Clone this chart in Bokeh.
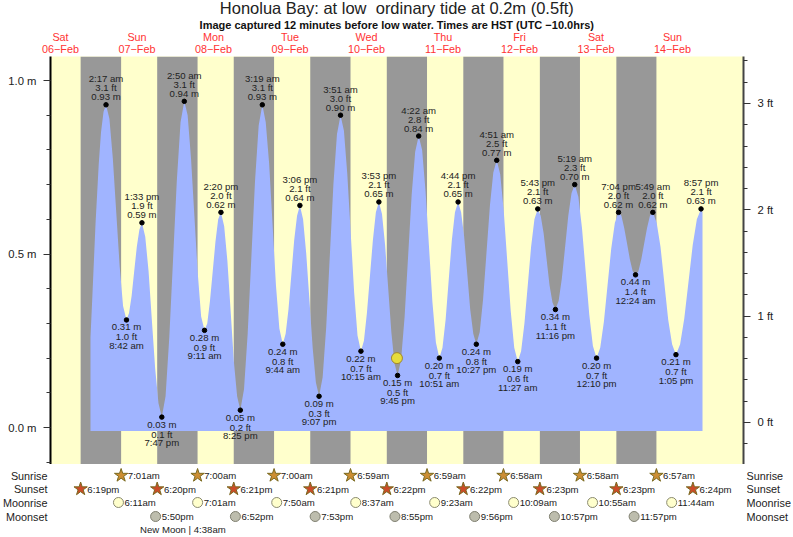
from bokeh.plotting import figure
from bokeh.layouts import column
from bokeh.models import (ColumnDataSource, FixedTicker, LinearAxis, Range1d)
from bokeh.embed import file_html
from bokeh.resources import INLINE
from bokeh.core.properties import value

FONT = "Liberation Sans"

title_text = "Honolua Bay: at low \u00a0ordinary tide at 0.2m (0.5ft)"
subtitle_text = "Image captured 12 minutes before low water. Times are HST (UTC \u221210.0hrs)"
day_names = ["Sat", "Sun", "Mon", "Tue", "Wed", "Thu", "Fri", "Sat", "Sun"]
day_dates = ["06", "07", "08", "09", "10", "11", "12", "13", "14"]

# tide turning points: day index from 06-Feb, clock time, metres, feet
tide_day = [1, 1, 1, 1, 2, 2, 2, 2, 3, 3, 3, 3, 4, 4, 4, 4, 5, 5, 5, 5, 6, 6, 6, 6, 7, 7, 7, 8, 8, 8, 8]
tide_time = ["2:17 am", "8:42 am", "1:33 pm", "7:47 pm", "2:50 am", "9:11 am", "2:20 pm", "8:25 pm",
             "3:19 am", "9:44 am", "3:06 pm", "9:07 pm", "3:51 am", "10:15 am", "3:53 pm", "9:45 pm",
             "4:22 am", "10:51 am", "4:44 pm", "10:27 pm", "4:51 am", "11:27 am", "5:43 pm", "11:16 pm",
             "5:19 am", "12:10 pm", "7:04 pm", "12:24 am", "5:49 am", "1:05 pm", "8:57 pm"]
tide_m = [0.93, 0.31, 0.59, 0.03, 0.94, 0.28, 0.62, 0.05, 0.93, 0.24, 0.64, 0.09, 0.90, 0.22, 0.65, 0.15,
          0.84, 0.20, 0.65, 0.24, 0.77, 0.19, 0.63, 0.34, 0.70, 0.20, 0.62, 0.44, 0.62, 0.21, 0.63]
tide_ft = [3.1, 1.0, 1.9, 0.1, 3.1, 0.9, 2.0, 0.2, 3.1, 0.8, 2.1, 0.3, 3.0, 0.7, 2.1, 0.5,
           2.8, 0.7, 2.1, 0.8, 2.5, 0.6, 2.1, 1.1, 2.3, 0.7, 2.0, 1.4, 2.0, 0.7, 2.1]

# tide curve: hours since 06-Feb 00:00, metres
curve_hours = [21.41, 22.0, 23.0, 24.0, 24.7, 25.5, 26.28,
               27.35, 28.42, 29.49, 30.56, 31.63, 32.70,
               33.51, 34.32, 35.12, 35.93, 36.74, 37.55,
               38.59, 39.63, 40.66, 41.70, 42.74, 43.78,
               44.96, 46.13, 47.31, 48.48, 49.66, 50.83,
               51.89, 52.95, 54.0, 55.06, 56.12, 57.18,
               58.04, 58.90, 59.76, 60.61, 61.47, 62.33,
               63.35, 64.36, 65.38, 66.39, 67.41, 68.42,
               69.57, 70.72, 71.87, 73.02, 74.17, 75.32,
               76.39, 77.46, 78.53, 79.59, 80.66, 81.73,
               82.63, 83.52, 84.42, 85.31, 86.21, 87.10,
               88.1, 89.1, 90.11, 91.11, 92.12, 93.12,
               94.24, 95.36, 96.49, 97.61, 98.73, 99.85,
               100.92, 101.98, 103.05, 104.12, 105.18, 106.25,
               107.19, 108.13, 109.07, 110.0, 110.94, 111.88,
               112.86, 113.84, 114.82, 115.79, 116.77, 117.75,
               118.85, 119.96, 121.06, 122.16, 123.27, 124.37,
               125.45, 126.53, 127.61, 128.69, 129.77, 130.85,
               131.83, 132.81, 133.79, 134.77, 135.75, 136.73,
               137.68, 138.64, 139.59, 140.54, 141.5, 142.45,
               143.52, 144.58, 145.65, 146.72, 147.78, 148.85,
               149.95, 151.05, 152.15, 153.25, 154.35, 155.45,
               156.5, 157.54, 158.59, 159.63, 160.68, 161.72,
               162.65, 163.57, 164.5, 165.42, 166.35, 167.27,
               168.28, 169.29, 170.3, 171.3, 172.31, 173.32,
               174.46, 175.6, 176.75, 177.89, 179.03, 180.17,
               181.32, 182.47, 183.62, 184.77, 185.92, 187.07,
               187.96, 188.85, 189.74, 190.62, 191.51, 192.40,
               193.3, 194.21, 195.11, 196.01, 196.92, 197.82,
               199.03, 200.24, 201.45, 202.66, 203.87, 205.08,
               206.39, 207.7, 209.02, 210.33, 211.64, 212.95, 213.41]
curve_m = [0.26, 0.38, 0.59, 0.76, 0.85, 0.91, 0.93,
           0.89, 0.775, 0.62, 0.465, 0.35, 0.31,
           0.33, 0.38, 0.45, 0.52, 0.57, 0.59,
           0.55, 0.45, 0.31, 0.17, 0.07, 0.03,
           0.09, 0.26, 0.485, 0.71, 0.88, 0.94,
           0.90, 0.775, 0.61, 0.445, 0.32, 0.28,
           0.30, 0.365, 0.45, 0.535, 0.60, 0.62,
           0.58, 0.48, 0.335, 0.19, 0.09, 0.05,
           0.11, 0.27, 0.49, 0.71, 0.87, 0.93,
           0.88, 0.76, 0.585, 0.41, 0.285, 0.24,
           0.27, 0.34, 0.44, 0.54, 0.61, 0.64,
           0.60, 0.50, 0.365, 0.23, 0.13, 0.09,
           0.145, 0.29, 0.495, 0.70, 0.845, 0.90,
           0.855, 0.73, 0.56, 0.39, 0.265, 0.22,
           0.25, 0.33, 0.435, 0.54, 0.62, 0.65,
           0.615, 0.525, 0.40, 0.275, 0.185, 0.15,
           0.195, 0.32, 0.495, 0.67, 0.795, 0.84,
           0.80, 0.68, 0.52, 0.36, 0.245, 0.20,
           0.23, 0.31, 0.425, 0.54, 0.62, 0.65,
           0.62, 0.55, 0.445, 0.34, 0.27, 0.24,
           0.275, 0.37, 0.505, 0.64, 0.735, 0.77,
           0.73, 0.625, 0.48, 0.335, 0.23, 0.19,
           0.22, 0.30, 0.41, 0.52, 0.60, 0.63,
           0.61, 0.56, 0.485, 0.41, 0.36, 0.34,
           0.365, 0.43, 0.52, 0.61, 0.675, 0.70,
           0.665, 0.575, 0.45, 0.325, 0.235, 0.20,
           0.23, 0.305, 0.41, 0.515, 0.59, 0.62,
           0.61, 0.575, 0.53, 0.485, 0.45, 0.44,
           0.45, 0.485, 0.53, 0.575, 0.61, 0.62,
           0.59, 0.52, 0.415, 0.31, 0.24, 0.21,
           0.24, 0.315, 0.42, 0.525, 0.60, 0.63, 0.62]
curve_floor_m = -0.01

sunrise = ["7:01am", "7:00am", "7:00am", "6:59am", "6:59am", "6:58am", "6:58am", "6:57am"]
sunset = ["6:19pm", "6:20pm", "6:21pm", "6:21pm", "6:22pm", "6:22pm", "6:23pm", "6:23pm", "6:24pm"]
moonrise = ["6:11am", "7:01am", "7:50am", "8:37am", "9:23am", "10:09am", "10:55am", "11:44am"]
moonset = ["5:50pm", "6:52pm", "7:53pm", "8:55pm", "9:56pm", "10:57pm", "11:57pm"]
row_names = ["Sunrise", "Sunset", "Moonrise", "Moonset"]
moon_phase_text = "New Moon | 4:38am"
moon_phase_hour = 50.4
now_hour = 117.55
now_m = 0.20


def hours(day, clock):
    c = clock.replace(" ", "")
    h, m = c[:-2].split(":")
    h = int(h) % 12 + (12 if c.endswith("pm") else 0)
    return day * 24 + h + int(m) / 60


X0, X1 = 8.863, 226.27
MID = 117.5
TXT = "#222222"
BLUE, YELLOW, GREY = "#A0B4FF", "#FFFFCC", "#989898"

# heading strip
t = figure(width=793, height=17, output_backend="svg", toolbar_location=None,
           x_range=Range1d(X0, X1), y_range=Range1d(17, 0),
           min_border_left=50, min_border_right=50, min_border_top=0, min_border_bottom=0,
           outline_line_color=None, x_axis_type=None, y_axis_type=None)
t.grid.visible = False
t.text([MID], [7], text=[title_text], text_font=value(FONT), text_font_size="16.5px", text_color=TXT,
       text_align="center", text_baseline="middle")

p = figure(width=793, height=449, output_backend="svg", toolbar_location=None,
           x_range=Range1d(X0, X1), y_range=Range1d(-0.1066, 1.0692),
           min_border_left=50, min_border_right=50, min_border_top=41, min_border_bottom=0,
           background_fill_color=YELLOW, border_fill_color=None, outline_line_color=None,
           x_axis_location="above", y_axis_location="left", margin=(-2, 0, 0, 0))
p.grid.visible = False

# top axes, from the frame upward: dates, day names, and the line under the title
noons = [d * 24 + 12 for d in range(len(day_names))]
ax = p.above[0]
ax.ticker = FixedTicker(ticks=noons)
ax.major_label_overrides = {n: f"{d}\u2212Feb" for n, d in zip(noons, day_dates)}
ax.major_label_standoff = 2
ax2 = LinearAxis(ticker=FixedTicker(ticks=noons),
                 major_label_overrides={n: d for n, d in zip(noons, day_names)},
                 major_label_standoff=-3)
p.add_layout(ax2, "above")
ax3 = LinearAxis(ticker=FixedTicker(ticks=[MID]), major_label_overrides={MID: subtitle_text},
                 major_label_standoff=-3)
p.add_layout(ax3, "above")
for a in (ax, ax2, ax3):
    a.axis_line_color = None
    a.major_tick_line_color = None
    a.minor_tick_line_color = None
    a.major_tick_out = 0
    a.major_tick_in = 0
    a.minor_tick_out = 0
    a.minor_tick_in = 0
    a.major_label_text_color = "#FF3333"
    a.major_label_text_font = FONT
    a.major_label_text_font_size = "10.8px"
ax3.major_label_text_color = "#111111"
ax3.major_label_text_font_size = "11px"
ax3.major_label_text_font_style = "bold"

# left axis: metres
ly = p.left[0]
ly.ticker = FixedTicker(ticks=[0, 0.5, 1.0], minor_ticks=[-0.1, 0.1, 0.2, 0.3, 0.4, 0.6, 0.7, 0.8, 0.9])
ly.major_label_overrides = {0: "0.0 m", 0.5: "0.5 m", 1.0: "1.0 m"}
ly.axis_line_color = "#000000"
ly.axis_line_width = 2

# right axis: feet
p.extra_y_ranges = {"ft": Range1d(-0.395, 3.442)}
ry = LinearAxis(y_range_name="ft",
                ticker=FixedTicker(ticks=[0, 1, 2, 3],
                                   minor_ticks=[-0.2, 0.2, 0.4, 0.6, 0.8, 1.2, 1.4, 1.6, 1.8, 2.2, 2.4, 2.6, 2.8, 3.2, 3.4]))
ry.major_label_overrides = {0: "0 ft", 1: "1 ft", 2: "2 ft", 3: "3 ft"}
ry.axis_line_color = "#444444"
ry.axis_line_width = 2
p.add_layout(ry, "right")
for a in (ly, ry):
    a.major_tick_out = 7
    a.major_tick_in = 0
    a.minor_tick_out = 4
    a.minor_tick_in = 0
    a.major_tick_line_color = "#333333"
    a.minor_tick_line_color = "#333333"
    a.major_label_standoff = 7
    a.major_label_text_font = FONT
    a.major_label_text_font_size = "11.3px"
    a.major_label_text_color = TXT

# night bands
night_left = [hours(i, s) for i, s in enumerate(sunset[:len(sunrise)])]
night_right = [hours(i + 1, s) for i, s in enumerate(sunrise)]
p.quad(left=night_left, right=night_right, bottom=-0.1066, top=1.0692, fill_color=GREY, line_color=None)

# tide
p.varea(x=curve_hours, y1=[curve_floor_m] * len(curve_hours), y2=curve_m, fill_color=BLUE)

tide_hour = [hours(d, c) for d, c in zip(tide_day, tide_time)]
p.scatter(tide_hour, tide_m, size=4.5, marker="circle", fill_color="black", line_color="black")
p.scatter([now_hour], [now_m], size=11, marker="circle", fill_color="#E6DC3C", line_color="#A08830", line_width=1)

high = [i for i in range(len(tide_m)) if tide_m[i] > (tide_m[i + 1] if i + 1 < len(tide_m) else 0)]
low = [i for i in range(len(tide_m)) if i not in high]
for idx, offs in ((high, (-8, -17, -26)), (low, (7, 17, 25.5))):
    xs = [tide_hour[i] for i in idx]
    ys = [tide_m[i] for i in idx]
    texts = [[f"{tide_m[i]:.2f} m" for i in idx], [f"{tide_ft[i]:.1f} ft" for i in idx], [tide_time[i] for i in idx]]
    for off, tx in zip(offs, texts):
        src = ColumnDataSource(dict(x=xs, y=ys, t=tx))
        p.text("x", "y", text="t", source=src, text_font=value(FONT), text_font_size="9.6px",
               text_color=TXT, text_align="center", text_baseline="middle", y_offset=off)

# lower strip: sun and moon rows, with the row names on its own y axes
q = figure(width=793, height=73, output_backend="svg", toolbar_location=None,
           x_range=Range1d(X0, X1), y_range=Range1d(73, 0),
           min_border_left=50, min_border_right=50, min_border_top=0, min_border_bottom=0,
           outline_line_color=None, x_axis_type=None, y_axis_location="left")
q.grid.visible = False

ROW_Y = [11, 24.5, 38, 52]
rows = [
    ([hours(i + 1, s) for i, s in enumerate(sunrise)], sunrise, "star", "#CC8E33", "#7A6A20", 14, 2.1),
    ([hours(i, s) for i, s in enumerate(sunset)], sunset, "star", "#CC4B28", "#7A6A20", 14, 2.1),
    ([hours(i + 1, s) for i, s in enumerate(moonrise)], moonrise, "circle", "#FFFFCC", "#8A8A70", 10, 1.9),
    ([hours(i + 1, s) for i, s in enumerate(moonset)], moonset, "circle", "#BDBDAD", "#7F7F70", 10, 1.9),
]
for (xs, txts, mk, fc, lc, sz, dx), row_y in zip(rows, ROW_Y):
    q.scatter(xs, [row_y] * len(xs), marker=mk, size=sz, fill_color=fc, line_color=lc)
    q.text([x + dx for x in xs], [row_y] * len(xs), text=txts, text_font=value(FONT), text_font_size="9.6px",
           text_color=TXT, text_baseline="middle", text_align="left")

q_left = q.left[0]
q_right = LinearAxis()
q.add_layout(q_right, "right")
for a in (q_left, q_right):
    a.ticker = FixedTicker(ticks=ROW_Y)
    a.major_label_overrides = dict(zip(ROW_Y, row_names))
    a.axis_line_color = None
    a.major_tick_line_color = None
    a.minor_tick_line_color = None
    a.major_tick_out = 0
    a.major_tick_in = 0
    a.minor_tick_out = 0
    a.minor_tick_in = 0
    a.major_label_standoff = 3
    a.major_label_text_font = FONT
    a.major_label_text_font_size = "10.8px"
    a.major_label_text_color = TXT
q.text([moon_phase_hour], [65], text=[moon_phase_text], text_font=value(FONT), text_font_size="9.6px",
       text_color=TXT, text_baseline="middle", text_align="center")

page = column(t, p, q, spacing=0)
open("out.html", "w").write(file_html(page, INLINE))
